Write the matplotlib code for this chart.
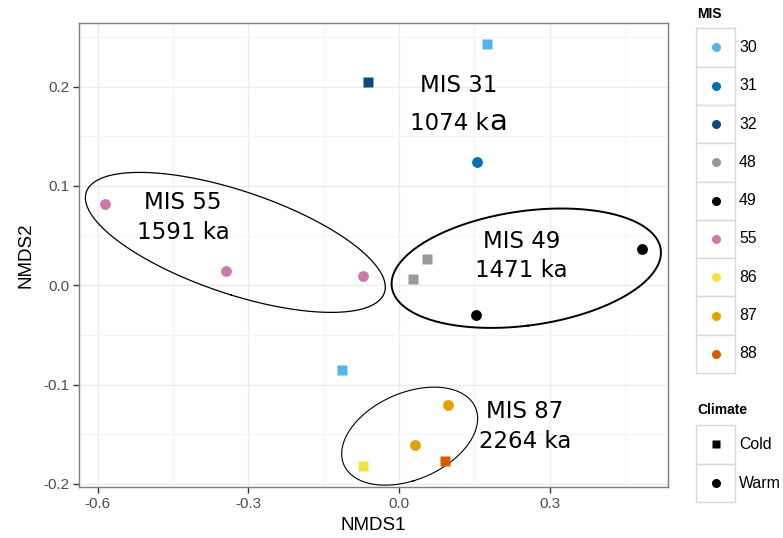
import numpy as np
import matplotlib
matplotlib.use("Agg")
import matplotlib.pyplot as plt
from matplotlib.patches import Rectangle

# NMDS scores per sample
mis = ['30', '30', '32', '31', '48', '48', '49', '49',
       '55', '55', '55', '87', '87', '86', '88']
climate = ['Cold', 'Cold', 'Cold', 'Warm', 'Cold', 'Cold', 'Warm', 'Warm',
           'Warm', 'Warm', 'Warm', 'Warm', 'Warm', 'Cold', 'Cold']
nmds1 = [0.175, -0.113, -0.061, 0.155, 0.055, 0.027, 0.485, 0.153,
         -0.585, -0.344, -0.072, 0.097, 0.031, -0.072, 0.092]
nmds2 = [0.243, -0.085, 0.205, 0.124, 0.026, 0.006, 0.036, -0.030,
         0.082, 0.014, 0.009, -0.121, -0.161, -0.182, -0.177]

mis_levels = ['30', '31', '32', '48', '49', '55', '86', '87', '88']
mis_colors = ['#56B4E9', '#0072B2', '#0B4A80', '#999999', '#000000',
              '#CC79A7', '#F0E442', '#E69F00', '#D55E00']
climate_levels = ['Cold', 'Warm']
climate_markers = {'Cold': 's', 'Warm': 'o'}

xticks = [-0.6, -0.3, 0.0, 0.3]
yticks = [-0.2, -0.1, 0.0, 0.1, 0.2]

# group ellipses: centre and covariance (NMDS units)
ellipses = [
    ((-0.326, 0.0431), [[0.08928, -0.01344], [-0.01344, 0.004969]], 0.9),
    ((0.2536, 0.0171), [[0.0720, 0.004213], [0.004213, 0.003614]], 1.4),
    ((0.0213, -0.152), [[0.018349, 0.002407], [0.002407, 0.002435]], 0.8),
]
group_labels = [
    ('MIS 55', '1591 ka', -0.430, 0.0828, 0.0532),
    ('MIS 49', '1471 ka', 0.244, 0.0441, 0.0149),
    ('MIS 87', '2264 ka', 0.251, -0.127, -0.157),
]

color_of = dict(zip(mis_levels, mis_colors))

fig = plt.figure(figsize=(7.83, 5.38), dpi=100)
ax = fig.add_axes([79 / 783, 1 - 487.3 / 538, (668 - 79) / 783, (487.3 - 23) / 538])

ax.set_xlim(-0.6375, 0.536)
ax.set_ylim(-0.2035, 0.264)
ax.set_xticks(xticks)
ax.set_xticklabels([f'{v:.1f}' for v in xticks])
ax.set_yticks(yticks)
ax.set_yticklabels([f'{v:.1f}' for v in yticks])
ax.set_xticks([-0.45, -0.15, 0.15, 0.45], minor=True)
ax.set_yticks([-0.15, -0.05, 0.05, 0.15, 0.25], minor=True)
ax.grid(which='major', color='#EBEBEB', lw=1.0, zorder=0)
ax.grid(which='minor', color='#F4F4F4', lw=0.8, zorder=0)
ax.set_axisbelow(True)
ax.tick_params(which='major', length=4, width=1, color='#333333',
               labelsize=11, labelcolor='#4D4D4D', pad=3)
ax.tick_params(which='minor', length=0)
for lab in ax.get_xticklabels() + ax.get_yticklabels():
    lab.set_fontfamily('Liberation Sans')
for sp in ax.spines.values():
    sp.set_color('#7F7F7F')
    sp.set_linewidth(1.0)
ax.set_xlabel('NMDS1', fontsize=13.5, family='Liberation Sans', labelpad=4)
ax.set_ylabel('NMDS2', fontsize=13.5, family='Liberation Sans', labelpad=6)

# points
for x, y, m, c in zip(nmds1, nmds2, mis, climate):
    ax.plot(x, y, marker=climate_markers[c], ms=7.8 if c == 'Warm' else 7.6,
            color=color_of[m], mec='none', ls='none', zorder=3)

# ellipses
t = np.linspace(0, 2 * np.pi, 400)
for (cx, cy), cov, lw in ellipses:
    vals, vecs = np.linalg.eigh(np.array(cov))
    pts = vecs @ (np.sqrt(vals)[:, None] * np.vstack([np.cos(t), np.sin(t)]))
    ax.plot(cx + pts[0], cy + pts[1], color='black', lw=lw, zorder=2,
            solid_joinstyle='round')

for l1, l2, x, y1, y2 in group_labels:
    ax.text(x, y1, l1, fontsize=16.5, ha='center', va='center', zorder=4)
    ax.text(x, y2, l2, fontsize=16.5, ha='center', va='center', zorder=4)

# MIS 31 label, its trailing "a" set a size larger
ax.text(0.118, 0.201, 'MIS 31', fontsize=16.5, ha='center', va='center', zorder=4)
ax.text(0.180, 0.1566, '1074 k', fontsize=16.5, ha='right', va='baseline', zorder=4)
ax.text(0.180, 0.1566, 'a', fontsize=21, ha='left', va='baseline', zorder=4)

# legends, laid out in pixel coordinates
lg = fig.add_axes([0, 0, 1, 1])
lg.set_xlim(0, 783)
lg.set_ylim(538, 0)
lg.axis('off')
lg.patch.set_alpha(0)

key_x, key_w = 696.3, 39.0
lg.text(697, 14, 'MIS', fontsize=10, weight='bold', family='Liberation Sans',
        va='center', ha='left')
top, kh = 28.3, 38.3
for i, (lev, col) in enumerate(zip(mis_levels, mis_colors)):
    y0 = top + i * kh
    lg.add_patch(Rectangle((key_x, y0), key_w, kh, fc='white', ec='#D9D9D9', lw=1.0))
    lg.plot(key_x + key_w / 2, y0 + kh / 2, 'o', ms=6.5, color=col, mec='none')
    lg.text(739, y0 + kh / 2, lev, fontsize=11.4, family='Liberation Sans',
            va='center', ha='left')

lg.text(697, 410, 'Climate', fontsize=10, weight='bold', family='Liberation Sans',
        va='center', ha='left')
top, kh = 425.0, 38.7
for i, lev in enumerate(climate_levels):
    y0 = top + i * kh
    lg.add_patch(Rectangle((key_x, y0), key_w, kh, fc='white', ec='#D9D9D9', lw=1.0))
    lg.plot(key_x + key_w / 2, y0 + kh / 2, climate_markers[lev],
            ms=6.5 if lev == 'Warm' else 6.0, color='black', mec='none')
    lg.text(739, y0 + kh / 2, lev, fontsize=11.4, family='Liberation Sans',
            va='center', ha='left')

fig.savefig('out.png', dpi=100)
